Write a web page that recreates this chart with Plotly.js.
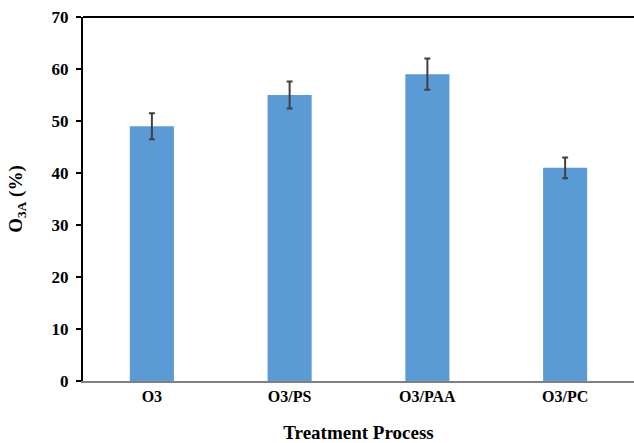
<!DOCTYPE html>
<html>
<head>
<meta charset="utf-8">
<script src="https://cdn.plot.ly/plotly-3.0.1.min.js"></script>
<style>html,body{margin:0;padding:0;background:#fff;}#chart{width:634px;height:443px;}</style>
</head>
<body>
<div id="chart"></div>
<script>
const categories = ["O3", "O3/PS", "O3/PAA", "O3/PC"];
const values = [49, 55, 59, 41];
const errors = [2.5, 2.6, 3, 2];
const yTicks = [0, 10, 20, 30, 40, 50, 60, 70];

const trace = {
  type: "bar",
  x: categories,
  y: values,
  marker: {color: "#5b9bd5"},
  width: 0.32,
  error_y: {type: "data", array: errors, visible: true, color: "#404040", thickness: 2, width: 3}
};

const layout = {
  width: 634, height: 443,
  margin: {l: 83, r: 0, t: 17, b: 62},
  paper_bgcolor: "#fff", plot_bgcolor: "#fff",
  font: {family: "Liberation Serif, Times New Roman, serif", color: "#000"},
  showlegend: false,
  xaxis: {
    type: "category",
    showline: true, linecolor: "#808080", linewidth: 2,
    ticks: "", showgrid: false, zeroline: false,
    tickfont: {size: 16, family: "Liberation Serif", weight: "bold"},
    title: {text: "<b>Treatment Process</b>", font: {size: 19, family: "Liberation Serif"}, standoff: 36}
  },
  yaxis: {
    range: [0, 70], tickvals: yTicks, ticktext: yTicks.map(v => "<b>" + v + "</b>"),
    showline: true, linecolor: "#000", linewidth: 2,
    ticks: "outside", ticklen: 5, tickwidth: 1.5, tickcolor: "#000",
    ticklabelstandoff: 4,
    showgrid: false, zeroline: false,
    tickfont: {size: 17, family: "Liberation Serif"},
    title: {text: "<b>O<sub>3A</sub> (%)</b>", font: {size: 19, family: "Liberation Serif"}, standoff: 24}
  },
  shapes: [{type: "line", xref: "paper", yref: "paper", x0: 0, x1: 1, y0: 1, y1: 1, line: {color: "#000", width: 2}}]
};

Plotly.newPlot("chart", [trace], layout, {displayModeBar: false, staticPlot: true});
</script>
</body>
</html>
